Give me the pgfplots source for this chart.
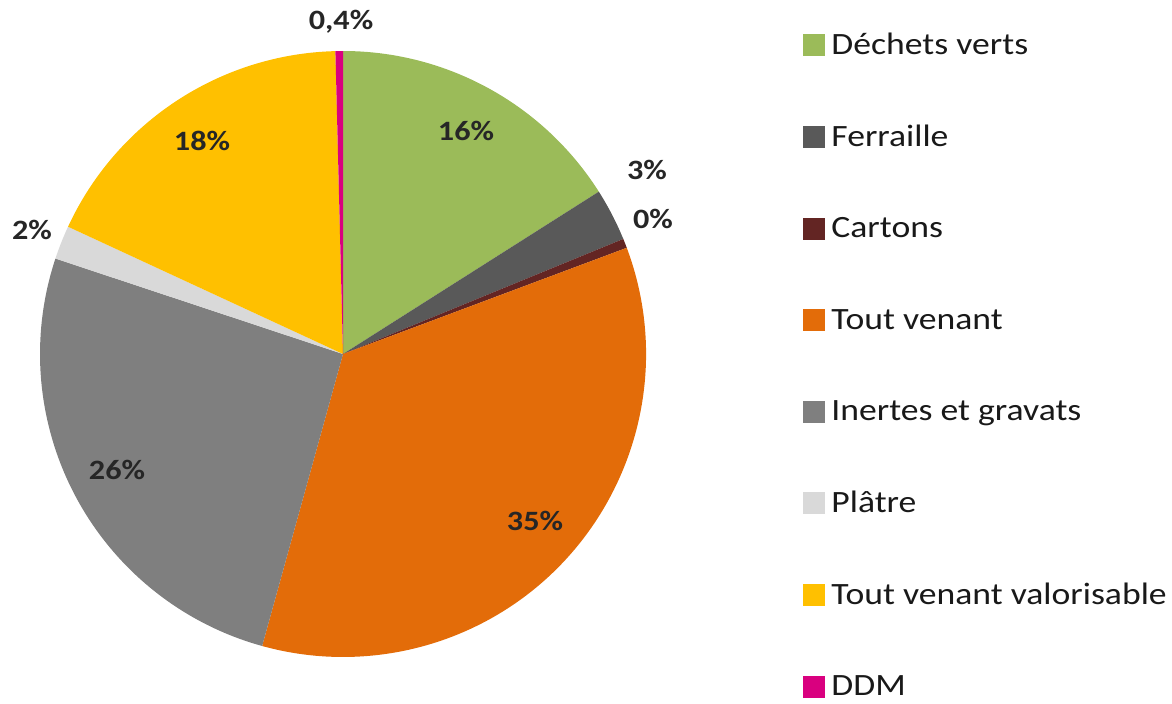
\documentclass[border=0pt]{standalone}
\usepackage{pgfplots}
\usepackage{pgfplotstable}
\pgfplotsset{compat=1.18}
\usepackage{fontspec}
\setmainfont{Carlito}[FakeStretch=1.15]
\definecolor{cVerts}{HTML}{9BBB59}
\definecolor{cFer}{HTML}{595959}
\definecolor{cCart}{HTML}{632523}
\definecolor{cTV}{HTML}{E36C09}
\definecolor{cInert}{HTML}{7F7F7F}
\definecolor{cPlatre}{HTML}{D9D9D9}
\definecolor{cTVV}{HTML}{FFC000}
\definecolor{cDDM}{HTML}{D9007F}
\newcommand\legfont{\fontsize{15.5}{18}\selectfont}
\newcommand\pctfont{\fontsize{14}{16}\selectfont\bfseries}
% value = share in %, label = printed text, lx/ly = label position (pixels from top-left)
\pgfplotstableread[col sep=semicolon]{
name;value;color;label;lx;ly
Déchets verts;16.0;cVerts;16;466;131
Ferraille;2.8;cFer;3;647;170
Cartons;0.5;cCart;0;653;219
Tout venant;35.0;cTV;35;535;521
Inertes et gravats;25.8;cInert;26;117;470
Plâtre;1.8;cPlatre;2;32;230
Tout venant valorisable;17.7;cTVV;18;202;141
DDM;0.4;cDDM;0,4;341;22
}\pietable
\begin{document}
\begin{tikzpicture}
\begin{axis}[
  hide axis, scale only axis,
  x=0.5pt, y=0.5pt, xmin=0, xmax=1172, ymin=0, ymax=696,
  clip=false,
  legend image code/.code={\fill[#1, draw=none] (0pt,-4.5pt) rectangle (11pt,6.5pt);},
  legend cell align=left,
  legend style={draw=none, fill=none, at={(axis cs:803,664)}, anchor=north west,
    inner sep=0pt, row sep=30.8pt, column sep=3pt, font=\legfont, text=black!90,
    nodes={inner sep=0pt, text height=11pt, text depth=4pt}},
]
\path (axis cs:0,0) rectangle (axis cs:1172,696);
\pgfplotstablegetrowsof{\pietable}
\pgfmathtruncatemacro{\nrows}{\pgfplotsretval-1}
\def\cum{0}
\pgfplotsforeachungrouped \i in {0,...,\nrows}{%
  \pgfplotstablegetelem{\i}{value}\of\pietable \let\val\pgfplotsretval
  \pgfplotstablegetelem{\i}{color}\of\pietable \let\col\pgfplotsretval
  \pgfplotstablegetelem{\i}{name}\of\pietable \let\nam\pgfplotsretval
  \pgfplotstablegetelem{\i}{label}\of\pietable \let\lab\pgfplotsretval
  \pgfplotstablegetelem{\i}{lx}\of\pietable \let\lx\pgfplotsretval
  \pgfplotstablegetelem{\i}{ly}\of\pietable \let\ly\pgfplotsretval
  \pgfmathsetmacro{\sa}{90-3.6*\cum}%
  \pgfmathsetmacro{\ea}{90-3.6*(\cum+\val)}%
  \pgfmathsetmacro{\cum}{\cum+\val}%
  \pgfmathsetmacro{\lyy}{696-\ly}%
  \edef\temp{\noexpand\fill[\col] (axis cs:343,342) -- ([shift={(\sa:151.5pt)}]axis cs:343,342) arc[start angle=\sa, end angle=\ea, radius=151.5pt] -- cycle;}%
  \temp
  \edef\temp{\noexpand\addlegendimage{fill=\col, draw=none}\noexpand\addlegendentry{\nam}}%
  \temp
  \edef\temp{\noexpand\node[font=\noexpand\pctfont, text=black!85] at (axis cs:\lx,\lyy) {\lab\noexpand\%};}%
  \temp
}
\end{axis}
\end{tikzpicture}
\end{document}
